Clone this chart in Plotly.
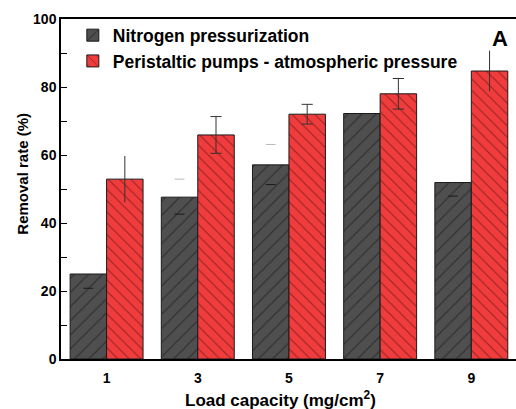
import plotly.graph_objects as go

# Load capacity (mg/cm2) for each group of bars
categories = [1, 3, 5, 7, 9]

# Removal rate (%) for the two feeding modes
nitrogen = [25.0, 47.6, 57.1, 72.2, 51.9]
peristaltic = [52.9, 65.9, 72.0, 78.0, 84.7]

# Error values; only the caps of the nitrogen series are drawn
nitrogen_err_up = [0, 5.3, 6.0, 0, 0]
nitrogen_err_down = [4.2, 5.0, 5.8, 0, 4.0]
peristaltic_err = [6.8, 5.4, 2.9, 4.5, 6.0]
peristaltic_caps = [False, True, True, True, False]

series_names = ["Nitrogen pressurization", "Peristaltic pumps - atmospheric pressure"]

FONT = "Arial, 'Liberation Sans', sans-serif"
BARGAP = 0.2
CAT_STEP = 2
# half of a single bar's width: centres of the two bars in a group
OFFSET = CAT_STEP * (1 - BARGAP) / 4

GREY = "#4f4f4f"
RED = "#f03c3c"

fig = go.Figure()

fig.add_trace(go.Bar(
    x=categories, y=nitrogen, name=series_names[0],
    marker=dict(color=GREY, line=dict(color="#1a1a1a", width=1),
                pattern=dict(shape="/", size=10, solidity=0.12,
                             fgcolor="#151515", bgcolor=GREY)),
))
fig.add_trace(go.Bar(
    x=categories, y=peristaltic, name=series_names[1],
    marker=dict(color=RED, line=dict(color="#1a1a1a", width=1),
                pattern=dict(shape="\\", size=8, solidity=0.13,
                             fgcolor="#3a0a0a", bgcolor=RED)),
    error_y=dict(type="data", array=peristaltic_err, width=0,
                 thickness=1, color="#333333"),
))

# caps of the nitrogen error bars
cap_x, cap_y, cap_c = [], [], []
for c, v, up, dn in zip(categories, nitrogen, nitrogen_err_up, nitrogen_err_down):
    if up:
        cap_x.append(c - OFFSET); cap_y.append(v + up); cap_c.append("#b8b8b8")
    if dn:
        cap_x.append(c - OFFSET); cap_y.append(v - dn); cap_c.append("#1a1a1a")
fig.add_trace(go.Scatter(
    x=cap_x, y=cap_y, mode="markers", showlegend=False, hoverinfo="skip",
    marker=dict(symbol="line-ew", size=7, line=dict(width=1, color=cap_c)),
))

# caps of the peristaltic error bars
px_, py_ = [], []
for c, v, e, show in zip(categories, peristaltic, peristaltic_err, peristaltic_caps):
    if show:
        px_ += [c + OFFSET, c + OFFSET]
        py_ += [v + e, v - e]
fig.add_trace(go.Scatter(
    x=px_, y=py_, mode="markers", showlegend=False, hoverinfo="skip",
    marker=dict(symbol="line-ew", size=8, line=dict(width=1, color="#333333")),
))

fig.update_layout(
    width=516, height=409,
    margin=dict(l=61, r=0, t=19, b=50),
    paper_bgcolor="white", plot_bgcolor="white",
    barmode="group", bargap=BARGAP, bargroupgap=0,
    font=dict(family=FONT, color="black"),
    legend=dict(x=0.026, y=1.005, xanchor="left", yanchor="top",
                bgcolor="rgba(0,0,0,0)", tracegroupgap=0,
                font=dict(size=17.5, family=FONT, weight="bold")),
    xaxis=dict(
        range=[0, 9.98], tickvals=categories,
        ticktext=[str(c) for c in categories],
        showgrid=False, zeroline=False,
        showline=True, linecolor="black", linewidth=1.5, mirror=True,
        ticks="", ticklabelstandoff=5, tickfont=dict(size=14, weight="bold"),
    ),
    yaxis=dict(
        range=[0, 100], dtick=20,
        showgrid=False, zeroline=False,
        showline=True, linecolor="black", linewidth=1.5,
        ticks="inside", ticklen=6, tickcolor="black",
        minor=dict(dtick=10, ticks="inside", ticklen=6, tickcolor="black"),
        tickfont=dict(size=14, weight="bold"),
    ),
    annotations=[
        dict(text="A", x=0.965, y=0.985, xref="paper", yref="paper",
             xanchor="center", yanchor="top", showarrow=False,
             font=dict(size=22, weight="bold")),
        dict(text="Load capacity (mg/cm<sup>2</sup>)", x=0.4835, y=-0.118,
             xref="paper", yref="paper", xanchor="center", yanchor="middle",
             showarrow=False, font=dict(size=17, weight="bold")),
        dict(text="Removal rate (%)", x=-0.085, y=0.546, textangle=-90,
             xref="paper", yref="paper", xanchor="center", yanchor="middle",
             showarrow=False, font=dict(size=15, weight="bold")),
    ],
)

fig.write_html("out.html")
